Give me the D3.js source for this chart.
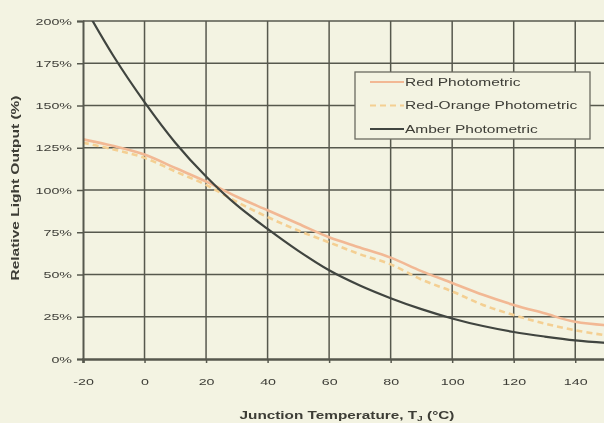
<!DOCTYPE html>
<html>
<head>
<meta charset="utf-8">
<script src="https://cdn.jsdelivr.net/npm/d3@7"></script>
<style>
  body { margin: 0; background: #f3f3e2; }
  svg { display: block; }
  text { font-family: "Liberation Sans", Arial, sans-serif; fill: #3c3c36; }
  .tick text { font-size: 9.5px; }
  .axisTitle { font-size: 10.5px; font-weight: bold; }
  .legend text { font-size: 10px; }
</style>
</head>
<body>
<svg id="chart"></svg>
<script>
'use strict'

// temperatures (°C) where values were read
const temps = [-20, -10, 0, 10, 20, 30, 40, 50, 60, 70, 80, 90, 100, 110, 120, 130, 140, 150]
// relative light output, fraction of 25°C value
const redValues =       [1.30, 1.26, 1.21, 1.13, 1.05, 0.96, 0.88, 0.80, 0.72, 0.66, 0.60, 0.52, 0.45, 0.38, 0.32, 0.27, 0.22, 0.20]
const redOrangeValues = [1.28, 1.24, 1.19, 1.11, 1.03, 0.93, 0.84, 0.76, 0.69, 0.62, 0.56, 0.47, 0.40, 0.32, 0.26, 0.21, 0.17, 0.14]
const amberValues =     [2.10, 1.79, 1.52, 1.28, 1.08, 0.91, 0.77, 0.64, 0.525, 0.435, 0.36, 0.295, 0.24, 0.195, 0.16, 0.133, 0.11, 0.095]

const xTicks = [-20, 0, 20, 40, 60, 80, 100, 120, 140]
const yTicks = [0, 0.25, 0.5, 0.75, 1, 1.25, 1.5, 1.75, 2]
const seriesNames = ["Red Photometric", "Red-Orange Photometric", "Amber Photometric"]

const width = 604, height = 423
const svg = d3.select('#chart').attr("width", width).attr("height", height)

// soft blur, the source picture is a fuzzy scan
svg.append("filter").attr("id", "soft")
  .append("feGaussianBlur").attr("stdDeviation", 0.55)
const root = svg.append("g").attr("filter", "url(#soft)")

root.append("rect").attr("width", width).attr("height", height).attr("fill", "#f3f3e2")

// text in the source is stretched sideways
function stretch(sel, k) {
  sel.each(function () {
    const w = this.getComputedTextLength()
    d3.select(this).attr("textLength", w * k).attr("lengthAdjust", "spacingAndGlyphs")
  })
}

// scales
const x = d3.scaleLinear().domain([-20, 150]).range([83, 606])
const y = d3.scaleLinear().domain([0, 2]).range([359, 21])

// clip for the plot area
svg.append("clipPath").attr("id", "plotClip")
  .append("rect")
  .attr("x", x(-20)).attr("y", y(2))
  .attr("width", x(150) - x(-20)).attr("height", y(0) - y(2))

// grid lines
const gridColor = "#57584e"
const grid = root.append("g").attr("class", "grid")
grid.selectAll(".hgrid").data(yTicks.filter(d => d > 0)).enter().append("line")
  .attr("x1", x(-20)).attr("x2", x(150))
  .attr("y1", d => y(d)).attr("y2", d => y(d))
  .attr("stroke", gridColor).attr("stroke-width", 1.5)
grid.selectAll(".vgrid").data(xTicks.filter(d => d > -20)).enter().append("line")
  .attr("x1", d => x(d)).attr("x2", d => x(d))
  .attr("y1", y(2)).attr("y2", y(0))
  .attr("stroke", gridColor).attr("stroke-width", 1.5)

// series lines
const line = d3.line()
  .x((d, i) => x(temps[i]))
  .y(d => y(d))
  .curve(d3.curveCatmullRom)

const plot = root.append("g").attr("clip-path", "url(#plotClip)")
plot.append("path").datum(redValues)
  .attr("fill", "none").attr("stroke", "#f2b894").attr("stroke-width", 2.6)
  .attr("d", line)
plot.append("path").datum(redOrangeValues)
  .attr("fill", "none").attr("stroke", "#f4cf92").attr("stroke-width", 2.6)
  .attr("stroke-dasharray", "6,4")
  .attr("d", line)
plot.append("path").datum(amberValues)
  .attr("fill", "none").attr("stroke", "#40443f").attr("stroke-width", 2.2)
  .attr("d", line)

// axes
const xAxis = root.append("g")
  .attr("transform", "translate(0," + y(0) + ")")
  .call(d3.axisBottom(x).tickValues(xTicks).tickSize(4).tickPadding(15).tickFormat(d => String(d)))
xAxis.select(".domain").attr("stroke", gridColor).attr("stroke-width", 2.6)
xAxis.selectAll(".tick line").attr("stroke", gridColor).attr("stroke-width", 1.5)
xAxis.selectAll(".tick text").attr("fill", "#3c3c36").call(stretch, 1.5)

const yAxis = root.append("g")
  .attr("transform", "translate(" + x(-20) + ",0)")
  .call(d3.axisLeft(y).tickValues(yTicks).tickSize(6).tickPadding(5).tickFormat(d3.format(".0%")))
yAxis.select(".domain").attr("stroke", gridColor).attr("stroke-width", 2)
yAxis.selectAll(".tick line").attr("stroke", gridColor).attr("stroke-width", 1.5)
yAxis.selectAll(".tick text").attr("fill", "#3c3c36").call(stretch, 1.5)

// axis titles
const xTitle = root.append("text").attr("class", "axisTitle")
  .attr("x", 347).attr("y", 419).attr("text-anchor", "middle")
  .attr("textLength", 215).attr("lengthAdjust", "spacingAndGlyphs")
xTitle.append("tspan").text("Junction Temperature, T")
xTitle.append("tspan").attr("font-size", "7px").attr("dy", 2).text("J")
xTitle.append("tspan").attr("dy", -2).text(" (°C)")

root.append("text").attr("class", "axisTitle")
  .attr("transform", "translate(19,188) rotate(-90)")
  .attr("text-anchor", "middle")
  .attr("textLength", 185).attr("lengthAdjust", "spacingAndGlyphs")
  .text("Relative Light Output (%)")

// legend
const legend = root.append("g").attr("class", "legend")
legend.append("rect")
  .attr("x", 355).attr("y", 72).attr("width", 235).attr("height", 67)
  .attr("fill", "#f3f3e2").attr("stroke", "#6a6a60").attr("stroke-width", 1.3)
const legendStyles = [
  {color: "#f2b894", dash: null},
  {color: "#f4cf92", dash: "6,4"},
  {color: "#40443f", dash: null}
]
seriesNames.forEach((name, i) => {
  const ly = 82 + i * 23.5
  legend.append("line")
    .attr("x1", 370).attr("x2", 404).attr("y1", ly).attr("y2", ly)
    .attr("stroke", legendStyles[i].color).attr("stroke-width", 2.2)
    .attr("stroke-dasharray", legendStyles[i].dash)
  legend.append("text")
    .attr("x", 405).attr("y", ly + 3.5)
    .text(name)
    .call(stretch, 1.55)
})
</script>
</body>
</html>
